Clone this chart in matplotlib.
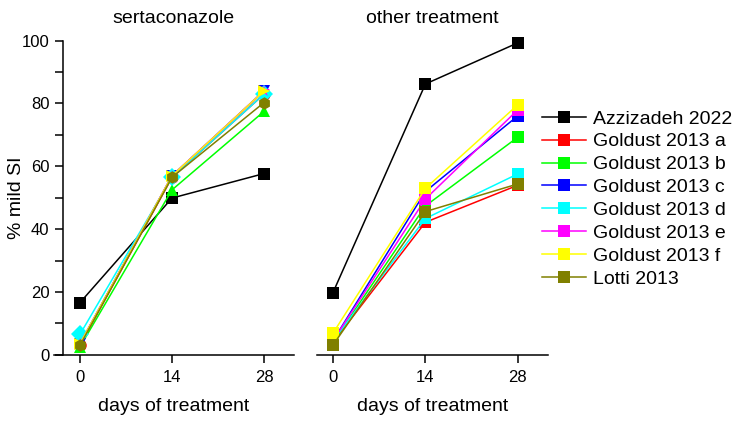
import numpy as np
import matplotlib
matplotlib.use('Agg')
import matplotlib.pyplot as plt

plt.rcParams['font.family'] = ['Liberation Sans', 'DejaVu Sans']

days = [0, 14, 28]
names = ['Azzizadeh 2022', 'Goldust 2013 a', 'Goldust 2013 b', 'Goldust 2013 c',
         'Goldust 2013 d', 'Goldust 2013 e', 'Goldust 2013 f', 'Lotti 2013']
colors = ['#000000', '#FF0000', '#00FF00', '#0000FF',
          '#00FFFF', '#FF00FF', '#FFFF00', '#808000']
left_markers = ['s', 'o', '^', 'v', 'D', '*', '>', 'h']

# % mild SI, sertaconazole arm
serta = [
    [16.6, 49.9, 57.7],
    [3.0, 56.5, 83.0],
    [2.5, 52.5, 77.5],
    [3.5, 57.0, 84.0],
    [6.5, 56.5, 83.0],
    [3.5, 57.0, 84.0],
    [3.5, 57.0, 84.0],
    [3.0, 56.5, 80.3],
]
# % mild SI, other treatment arm
other = [
    [19.8, 86.2, 99.3],
    [4.0, 42.2, 54.0],
    [4.0, 47.4, 69.3],
    [4.5, 52.0, 76.1],
    [4.5, 43.4, 57.6],
    [4.5, 49.6, 78.0],
    [6.9, 53.0, 79.6],
    [3.1, 45.6, 54.4],
]

fig = plt.figure(figsize=(7.34, 4.23), dpi=100)
ax1 = fig.add_axes([0.073, 0.161, 0.328, 0.743])
ax2 = fig.add_axes([0.432, 0.161, 0.315, 0.743])

for i in range(len(names)):
    ax1.plot(days, serta[i], color=colors[i], marker=left_markers[i], ms=9,
             mew=0, lw=1.1, clip_on=False, zorder=3)
handles = []
for i in range(len(names)):
    h, = ax2.plot(days, other[i], color=colors[i], marker='s', ms=9,
                  mew=0, lw=1.1, clip_on=False, zorder=3, label=names[i])
    handles.append(h)

for ax in (ax1, ax2):
    ax.set_ylim(0, 100)
    ax.set_xticks(days)
    ax.spines['top'].set_visible(False)
    ax.spines['right'].set_visible(False)
    ax.tick_params(axis='x', direction='out', length=6, width=1.1, labelsize=12, pad=5)
    ax.set_xlabel('days of treatment', fontsize=14, labelpad=9)
    ax.spines['bottom'].set_linewidth(1.1)

ax1.set_xlim(-4.0, 32.6)
ax1.spines['left'].set_position(('data', -2.6))
ax1.spines['left'].set_linewidth(1.1)
ax1.set_yticks(np.arange(0, 101, 20))
ax1.set_yticks(np.arange(10, 100, 20), minor=True)
ax1.tick_params(axis='y', which='both', direction='out', length=6, width=1.1, labelsize=12)
ax1.set_ylabel('% mild SI', fontsize=14)
ax1.yaxis.set_label_coords(-0.12, 0.5)
ax1.set_title('sertaconazole', fontsize=14, pad=13)

ax2.set_xlim(-2.4, 32.6)
ax2.spines['left'].set_visible(False)
ax2.set_yticks([])
ax2.set_title('other treatment', fontsize=14, pad=13)

fig.legend(handles=handles, loc='center left', bbox_to_anchor=(0.738, 0.53),
           frameon=False, fontsize=14, handlelength=2.3, handletextpad=0.35,
           labelspacing=0.27, borderpad=0, borderaxespad=0)

fig.savefig('out.png', dpi=100)
